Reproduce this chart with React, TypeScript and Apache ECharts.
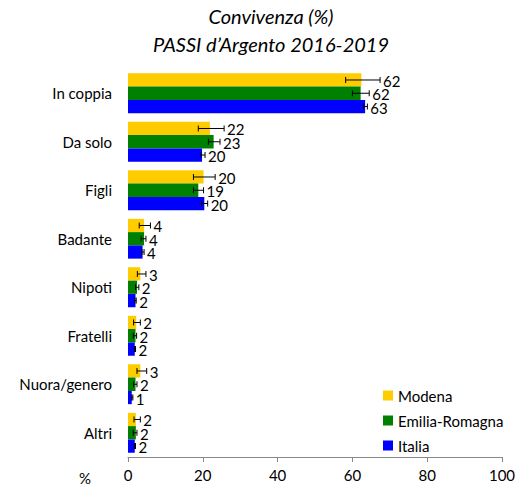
import React, { useEffect, useRef } from "react";
import * as echarts from "echarts";

const categories = ["In coppia", "Da solo", "Figli", "Badante", "Nipoti", "Fratelli", "Nuora/genero", "Altri"];
const seriesNames = ["Modena", "Emilia-Romagna", "Italia"];
const colors = ["#FFCC00", "#008000", "#0000FF"];

const modena = [62.4, 21.9, 20.2, 4.3, 3.3, 2.2, 3.3, 2.1];
const modenaLo = [58.2, 18.8, 17.5, 3.0, 2.5, 1.5, 2.4, 1.6];
const modenaHi = [67.4, 25.7, 23.3, 6.0, 4.8, 3.3, 5.0, 3.3];

const emilia = [62.2, 22.9, 18.8, 4.3, 2.4, 2.0, 2.0, 2.1];
const emiliaLo = [60.0, 21.5, 17.5, 3.5, 2.0, 1.4, 1.5, 1.4];
const emiliaHi = [64.5, 24.6, 20.2, 4.8, 2.9, 2.3, 2.4, 2.4];

const italia = [63.4, 19.8, 20.4, 3.9, 2.0, 1.8, 1.0, 1.8];
const italiaLo = [63.0, 19.5, 19.7, 3.7, 1.8, 1.7, 1.0, 1.7];
const italiaHi = [64.0, 20.6, 21.3, 4.3, 2.2, 2.0, 1.3, 2.0];

const xTicks = { min: 0, max: 100, interval: 20 };

const values = [modena, emilia, italia];
const lows = [modenaLo, emiliaLo, italiaLo];
const highs = [modenaHi, emiliaHi, italiaHi];

const GAP = 0.18;
const FONT = "Lato, 'Noto Sans', sans-serif";

export default function App() {
  const ref = useRef<HTMLDivElement>(null);
  useEffect(() => {
    document.body.style.margin = "0";
    const chart = echarts.init(ref.current!, null, { renderer: "svg" });

    const barSeries = seriesNames.map((name, s) => ({
      name,
      type: "bar",
      data: values[s],
      barGap: 0,
      barCategoryGap: `${GAP * 100}%`,
      itemStyle: { color: colors[s] },
      z: 2,
    }));

    const errSeries = seriesNames.map((name, s) => ({
      name: name + "-err",
      type: "custom",
      z: 3,
      data: categories.map((_, i) => [i, lows[s][i], highs[s][i], values[s][i]]),
      encode: { y: 0, x: [1, 2] },
      renderItem: (params: any, api: any) => {
        const idx = api.value(0);
        const lo = api.coord([api.value(1), idx]);
        const hi = api.coord([api.value(2), idx]);
        const bandH = api.size([0, 1])[1];
        const barW = (bandH * (1 - GAP)) / 3;
        const y = lo[1] - (bandH * (1 - GAP)) / 2 + barW * (s + 0.5);
        const cap = 3;
        const st = { stroke: "#000", lineWidth: 1 };
        return {
          type: "group",
          children: [
            { type: "line", shape: { x1: lo[0], y1: y, x2: hi[0], y2: y }, style: st },
            { type: "line", shape: { x1: lo[0], y1: y - cap, x2: lo[0], y2: y + cap }, style: st },
            { type: "line", shape: { x1: hi[0], y1: y - cap, x2: hi[0], y2: y + cap }, style: st },
            {
              type: "text",
              x: hi[0] + 3,
              y: y + 1,
              style: {
                text: String(Math.round(api.value(3))),
                fill: "#000",
                fontSize: 15,
                lineHeight: 12,
                fontFamily: FONT,
                verticalAlign: "middle",
                align: "left",
              },
            },
          ],
        };
      },
    }));

    chart.setOption({
      animation: false,
      textStyle: { fontFamily: FONT },
      title: {
        text: "Convivenza (%)\nPASSI d\u2019Argento 2016-2019",
        left: 266,
        textAlign: "center",
        top: 0,
        padding: [2, 5, 5, 5],
        textStyle: {
          fontSize: 20,
          fontStyle: "italic",
          fontWeight: "normal",
          lineHeight: 28,
          color: "#000",
          fontFamily: FONT,
        },
      },
      legend: {
        data: seriesNames,
        orient: "vertical",
        left: 378,
        top: 383,
        icon: "rect",
        itemWidth: 10,
        itemHeight: 10,
        itemGap: 10,
        itemStyle: { borderWidth: 0 },
        textStyle: { fontSize: 15, color: "#000", fontFamily: FONT, padding: [0, 0, 0, 0] },
      },
      grid: { left: 128, right: 26, top: 69, bottom: 33 },
      xAxis: {
        type: "value",
        min: xTicks.min,
        max: xTicks.max,
        interval: xTicks.interval,
        splitLine: { show: false },
        axisLine: { show: true, lineStyle: { color: "#888" } },
        axisTick: { show: true, length: 5, lineStyle: { color: "#888" } },
        axisLabel: { fontSize: 15, color: "#000", margin: 10, fontFamily: FONT },
      },
      yAxis: {
        type: "category",
        data: categories,
        inverse: true,
        axisLine: { show: false },
        axisTick: { show: false },
        axisLabel: { fontSize: 15, color: "#000", margin: 16, fontFamily: FONT },
      },
      graphic: [
        {
          type: "text",
          left: 79,
          top: 470,
          style: { text: "%", fontSize: 15, fill: "#000", fontFamily: FONT },
        },
      ],
      series: [...barSeries, ...errSeries],
    });
    return () => chart.dispose();
  }, []);
  return <div ref={ref} style={{ width: 528, height: 490 }} />;
}
